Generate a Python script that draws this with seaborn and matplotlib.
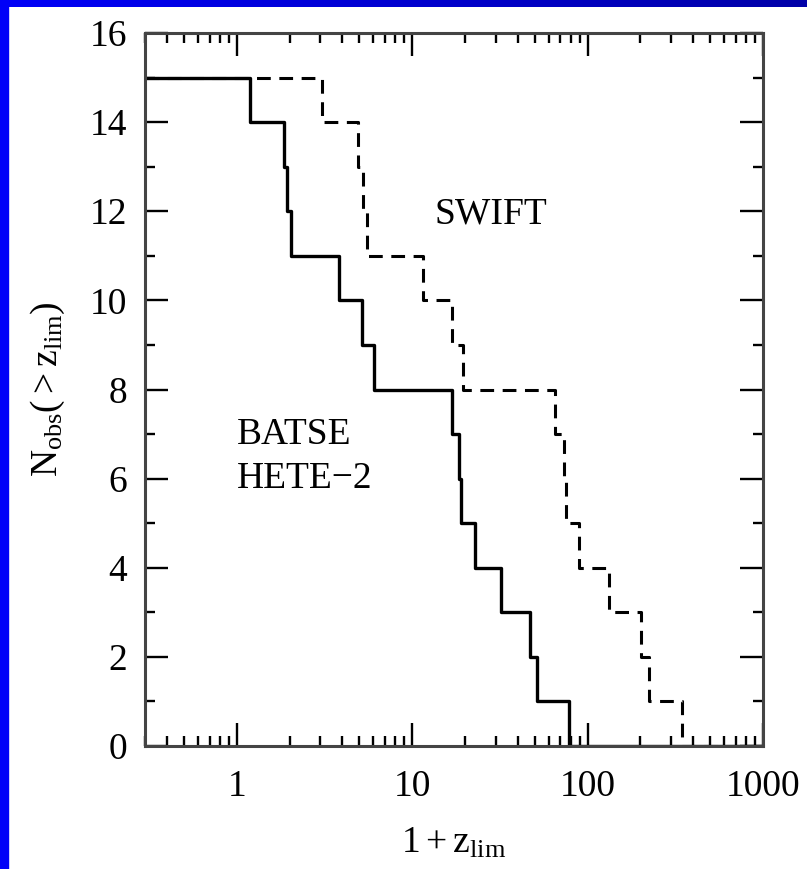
import numpy as np
import pandas as pd
import seaborn as sns
import matplotlib
matplotlib.use('Agg')
from matplotlib import pyplot as plt
from matplotlib.ticker import MultipleLocator, LogLocator, NullFormatter, FixedLocator, FixedFormatter
from matplotlib.patches import Rectangle
from matplotlib.colors import LinearSegmentedColormap

# 阶梯数据 (1+z_lim, N_obs)
batse_x = [0.3, 1.19, 1.86, 1.93, 2.05, 3.84, 5.16, 6.09, 16.9, 18.4, 18.9, 22.7, 32.3, 47.2, 51.6, 78.2, 1000]
batse_n = [15, 14, 13, 12, 11, 10, 9, 8, 7, 6, 5, 4, 3, 2, 1, 0, 0]
swift_x = [0.3, 3.05, 4.93, 5.22, 5.5, 11.5, 16.9, 19.6, 65.6, 73.3, 75.0, 89.2, 132, 201, 224, 347, 1000]
swift_n = [15, 14, 13, 12, 11, 10, 9, 8, 7, 6, 5, 4, 3, 2, 1, 0, 0]
xticks = [1, 10, 100, 1000]
xtick_labels = ['1', '10', '100', '1000']

sns.set_theme(style='ticks')
plt.rcParams['font.family'] = ['Liberation Serif', 'DejaVu Serif']
plt.rcParams['mathtext.fontset'] = 'custom'
plt.rcParams['mathtext.rm'] = 'Liberation Serif'
plt.rcParams['mathtext.it'] = 'Liberation Serif'
plt.rcParams['text.color'] = 'black'
plt.rcParams['axes.labelcolor'] = 'black'

fig = plt.figure(figsize=(8.07, 8.69), dpi=100)
fig.patch.set_facecolor('white')
ax = fig.add_axes([145 / 807, 1 - 746 / 869, (763 - 145) / 807, (746 - 33) / 869])

df1 = pd.DataFrame({'x': swift_x, 'n': swift_n})
df2 = pd.DataFrame({'x': batse_x, 'n': batse_n})
sns.lineplot(data=df1, x='x', y='n', ax=ax, estimator=None, drawstyle='steps-post',
             color='black', linewidth=2.2, linestyle=(0, (4.5, 2.8)))
sns.lineplot(data=df2, x='x', y='n', ax=ax, estimator=None, drawstyle='steps-post',
             color='black', linewidth=2.4)

ax.set_xscale('log')
ax.set_xlim(0.3, 1000)
ax.set_ylim(0, 16)

ax.xaxis.set_major_locator(FixedLocator(xticks))
ax.xaxis.set_major_formatter(FixedFormatter(xtick_labels))
ax.xaxis.set_minor_locator(LogLocator(base=10, subs=np.arange(2, 10)))
ax.xaxis.set_minor_formatter(NullFormatter())
ax.yaxis.set_major_locator(MultipleLocator(2))
ax.yaxis.set_minor_locator(MultipleLocator(1))

ax.tick_params(which='both', direction='in', top=True, right=True, colors='black', width=1.7)
ax.tick_params(which='major', length=16.5, labelsize=27, labelcolor='black')
ax.tick_params(which='minor', length=7.5)
ax.tick_params(axis='x', which='major', pad=17)
ax.tick_params(axis='y', which='major', pad=13)
for s in ax.spines.values():
    s.set_linewidth(2.2)
    s.set_color('#444444')

ax.set_xlabel(r'$\mathrm{1+z_{lim}}$', fontsize=27, labelpad=16, color='black')
ax.set_ylabel(r'$\mathrm{N_{obs}(>z_{lim})}$', fontsize=27, labelpad=16, color='black')

ax.text(0.56, 0.746, 'SWIFT', transform=ax.transAxes, fontsize=27, ha='center', va='center', color='black')
ax.text(0.149, 0.437, 'BATSE', transform=ax.transAxes, fontsize=27, ha='left', va='center', color='black')
ax.text(0.149, 0.375, 'HETE\u22122', transform=ax.transAxes, fontsize=27, ha='left', va='center', color='black')

# 蓝色边框
fig.patches.append(Rectangle((0, 0), 8 / 807, 1, transform=fig.transFigure, color='#0000f8', zorder=5))
bar = fig.add_axes([0, 1 - 7 / 869, 1, 7 / 869])
grad = np.linspace(0, 1, 256).reshape(1, -1)
cm = LinearSegmentedColormap.from_list('bb', ['#0000f8', '#0000a8'])
bar.imshow(grad, aspect='auto', cmap=cm, extent=[0, 1, 0, 1])
bar.set_axis_off()

plt.savefig('out.png', dpi=100)
